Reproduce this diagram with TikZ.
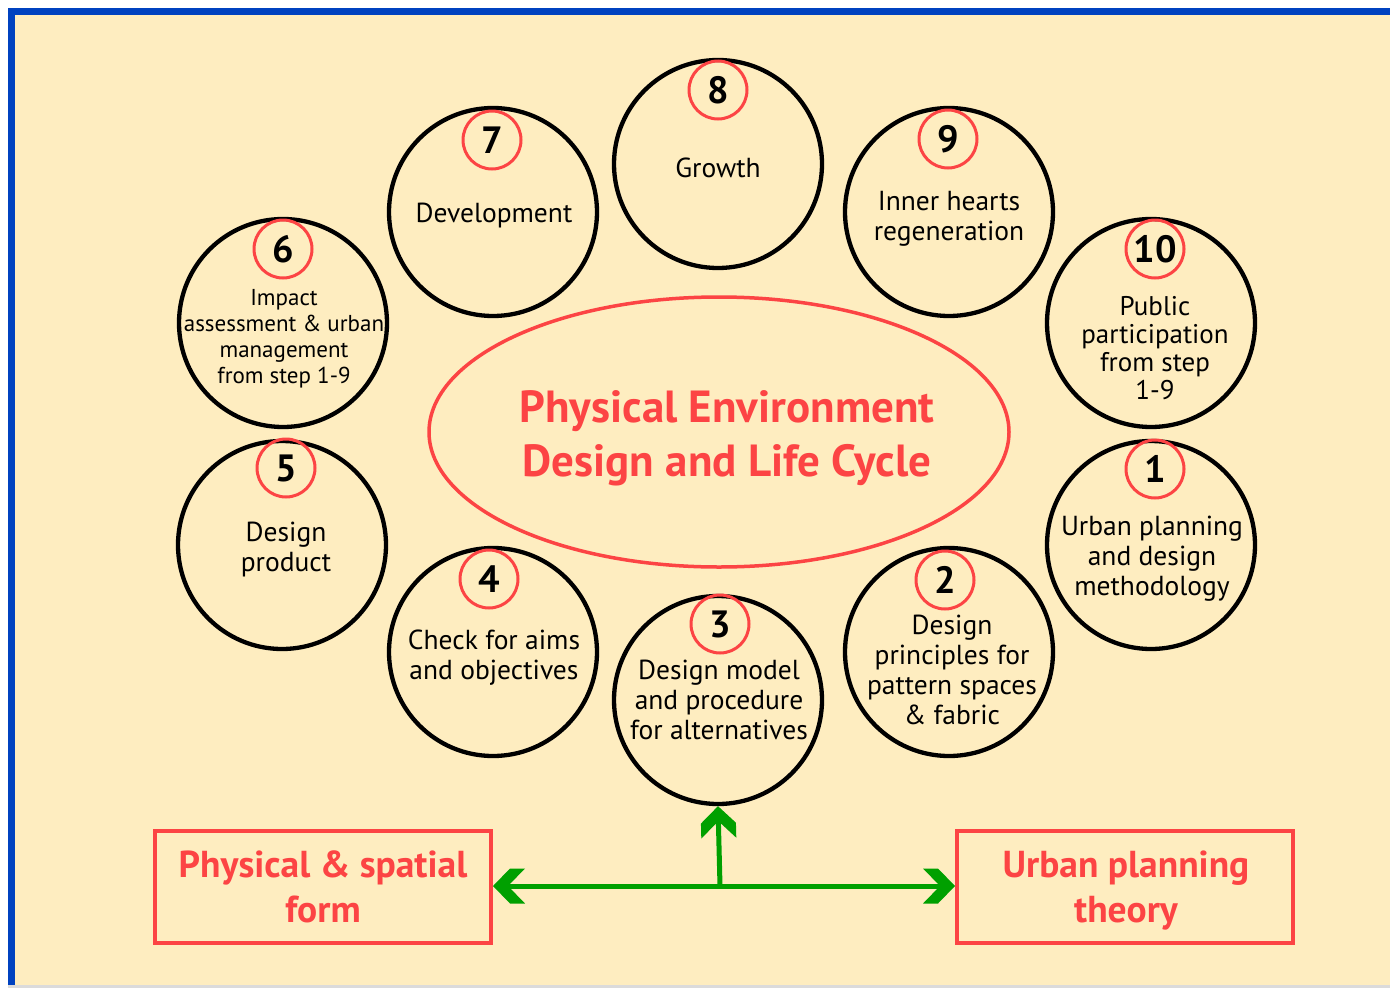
\documentclass[tikz,border=0pt]{standalone}
\usepackage{fontspec}
\setmainfont{PT Sans}
\usetikzlibrary{shapes.geometric,arrows.meta}
\definecolor{bgc}{RGB}{254,237,192}
\definecolor{bluec}{RGB}{0,66,192}
\definecolor{redc}{RGB}{252,68,68}
\definecolor{greenc}{RGB}{0,160,0}
\pgfdeclarearrow{
  name=Chev,
  parameters={},
  setup code={
    \pgfarrowssettipend{0pt}
    \pgfarrowssetlineend{-12pt}
    \pgfarrowssetbackend{-32pt}
    \pgfarrowshullpoint{0pt}{0pt}
    \pgfarrowsupperhullpoint{-17pt}{17.5pt}
    \pgfarrowsupperhullpoint{-32pt}{17.5pt}
  },
  drawing code={
    \pgfpathmoveto{\pgfpoint{0pt}{0pt}}
    \pgfpathlineto{\pgfpoint{-17pt}{17.5pt}}
    \pgfpathlineto{\pgfpoint{-32pt}{17.5pt}}
    \pgfpathlineto{\pgfpoint{-15pt}{0pt}}
    \pgfpathlineto{\pgfpoint{-32pt}{-17.5pt}}
    \pgfpathlineto{\pgfpoint{-17pt}{-17.5pt}}
    \pgfpathclose
    \pgfusepathqfill
  }
}
\tikzset{
  bigc/.style={circle,draw=black,line width=4.3pt,minimum size=208pt,inner sep=0pt},
  numc/.style={circle,draw=redc,line width=3pt,minimum size=58pt,inner sep=0pt,font=\fontsize{38}{40}\selectfont\bfseries},
  ctext/.style={align=center,font=\fontsize{27.5}{30}\selectfont,inner sep=0pt},
  stext/.style={align=center,font=\fontsize{23}{26}\selectfont,inner sep=0pt},
  mtext/.style={align=center,font=\fontsize{27}{28}\selectfont,inner sep=0pt},
  rbox/.style={draw=redc,line width=4pt,minimum width=336pt,minimum height=112pt,inner sep=0pt},
  btext/.style={text=redc,align=center,font=\fontsize{37.5}{45}\selectfont\bfseries,inner sep=0pt},
  garrow/.style={draw=greenc,line width=5pt,-Chev},
}
\begin{document}
\begin{tikzpicture}[x=1pt,y=-1pt]
\useasboundingbox (0,0) rectangle (1390,988);
\fill[white] (0,0) rectangle (1390,988);
\fill[bgc] (8,8) rectangle (1390,985);
\fill[black!14] (8,985) rectangle (1390,988);
\fill[bluec] (8,8) rectangle (1390,15);
\fill[bluec] (8,8) rectangle (15,985);

% central ellipse
\node[ellipse,draw=redc,line width=3.5pt,minimum width=580pt,minimum height=270pt,inner sep=0pt] (core) at (719,432) {};
\node[align=center,text=redc,font=\fontsize{45}{54}\selectfont\bfseries,inner sep=0pt] (coret) at (727,438) {Physical Environment\\Design and Life Cycle};

% step circles
\node[bigc] (c8) at (718,164) {};
\node[bigc] (c7) at (493,212) {};
\node[bigc] (c9) at (949,212) {};
\node[bigc] (c6) at (283,323) {};
\node[bigc] (c10) at (1151,323) {};
\node[bigc] (c5) at (282,545) {};
\node[bigc] (c1) at (1151,545) {};
\node[bigc] (c4) at (493,652) {};
\node[bigc] (c2) at (949,652) {};
\node[bigc] (c3) at (718,700) {};

% numbers
\node[numc] (n8) at (718,90) {8};
\node[numc] (n7) at (492,140) {7};
\node[numc] (n9) at (948,139) {9};
\node[numc] (n6) at (283,249) {6};
\node[numc] (n10) at (1155,249) {10};
\node[numc] (n5) at (286,468) {5};
\node[numc] (n1) at (1155,469) {1};
\node[numc] (n4) at (489,579) {4};
\node[numc] (n2) at (945,580) {2};
\node[numc] (n3) at (720,624) {3};

% texts
\node[ctext] (t8) at (718,168) {Growth};
\node[ctext] (t7) at (494,216) {Development};
\node[ctext] (t9) at (949,219) {Inner hearts\\regeneration};
\node[stext] (t6) at (284,339) {Impact\\assessment \& urban\\management\\from step 1-9};
\node[mtext] (t10) at (1155,348) {Public\\participation\\from step\\1-9};
\node[ctext] (t5) at (286,550) {Design\\product};
\node[ctext] (t1) at (1152,559) {Urban planning\\and design\\methodology};
\node[ctext] (t4) at (494,658) {Check for aims\\and objectives};
\node[ctext] (t2) at (952,670) {Design\\principles for\\pattern spaces\\\& fabric};
\node[ctext] (t3) at (719,700) {Design model\\and procedure\\for alternatives};

% bottom boxes
\node[rbox] (left) at (323,887) {};
\node[btext] (leftt) at (323,887) {Physical \& spatial\\form};
\node[rbox] (right) at (1125,887) {};
\node[btext] (rightt) at (1126,891) {Urban planning\\theory};

% green connectors
\coordinate (j) at (720,886);
\draw[garrow] (j) -- (left.east |- j);
\draw[garrow] (j) -- (right.west |- j);
\draw[garrow] (j) -- (c3.south);
\end{tikzpicture}
\end{document}
